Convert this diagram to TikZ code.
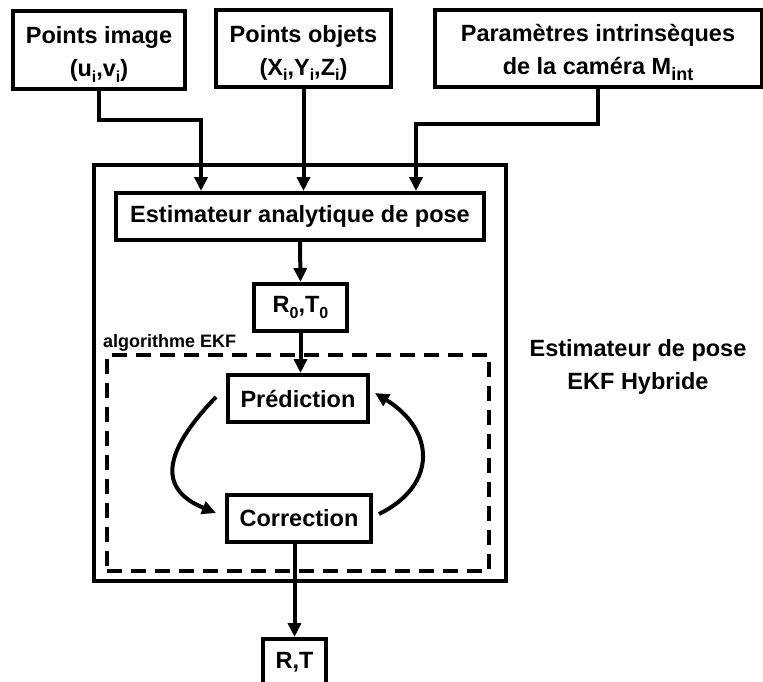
\documentclass[tikz,border=0pt]{standalone}
\usepackage{fontspec}
\setmainfont{Liberation Sans}
\usetikzlibrary{arrows.meta,calc}
\newcommand\sbs[1]{\raisebox{-5.5pt}{\fontsize{16}{16}\selectfont #1}}
\newcommand\topstrut{\rule{0pt}{26pt}}
\begin{document}
\begin{tikzpicture}[x=1pt,y=-1pt,
  box/.style={draw,line width=4pt,inner sep=0pt,align=center,font=\fontsize{23.5}{33}\selectfont\bfseries},
  arr/.style={line width=4pt,-{Triangle[length=14pt,width=13pt]}},
  lbl/.style={inner sep=0pt,align=center,font=\fontsize{23.5}{33}\selectfont\bfseries}]
\useasboundingbox (0,0) rectangle (763,682);
% inputs
\node[box,minimum width=172,minimum height=78] (b1) at (99,50) {\topstrut Points image\\(u\sbs{i},v\sbs{i})};
\node[box,minimum width=175,minimum height=77] (b2) at (303.5,48.5) {\topstrut Points objets\\(X\sbs{i},Y\sbs{i},Z\sbs{i})};
\node[box,minimum width=327,minimum height=77] (b3) at (598,48.5) {\topstrut Paramètres intrinsèques\\de la caméra M\raisebox{-6pt}{\fontsize{18}{18}\selectfont int}};
% outer frame
\node[draw,line width=4pt,inner sep=0pt,minimum width=412,minimum height=416] (outer) at (300,373) {};
\node[draw,dashed,dash pattern=on 15pt off 9pt,line width=4.5pt,inner sep=0pt,minimum width=382,minimum height=216] (ekf) at (298,463) {};
\node[lbl,anchor=base west,font=\fontsize{18}{20}\selectfont\bfseries] (ekflbl) at (103,347) {algorithme EKF};
\node[lbl] (hyb) at (638,367) {Estimateur de pose\\EKF Hybride};
% inner boxes
\node[box,minimum width=368,minimum height=47] (est) at (300,216.5) {Estimateur analytique de pose};
\node[box,minimum width=93,minimum height=47] (r0) at (300.5,307.5) {R\sbs{0},T\sbs{0}};
\node[box,minimum width=140,minimum height=47] (pred) at (298,398.5) {Prédiction};
\node[box,minimum width=144,minimum height=47] (corr) at (299,518.5) {Correction};
\node[box,minimum width=63,minimum height=47] (rt) at (294.5,662.5) {R,T};
% connectors
\draw[arr] (b1.south) -- ++(0,29) -| ([xshift=-99pt]est.north);
\draw[arr] (b2.south) -- (b2.south |- est.north);
\draw[arr] (b3.south) -- ++(0,35) -| ([xshift=116pt]est.north);
\draw[arr] (est.south) -- (r0.north);
\draw[arr] (r0.south) -- (r0.south |- pred.north);
\draw[arr] ([shift={(-10,-1.5)}]pred.west) .. controls (160,455) and (160,490) .. ([shift={(-9,-5.5)}]corr.west);
\draw[arr] ([shift={(6,-4.5)}]corr.east) .. controls (438,485) and (435,430) .. ([shift={(5,-5.5)}]pred.east);
\draw[arr] (rt.north |- corr.south) -- (rt.north);
\end{tikzpicture}
\end{document}
